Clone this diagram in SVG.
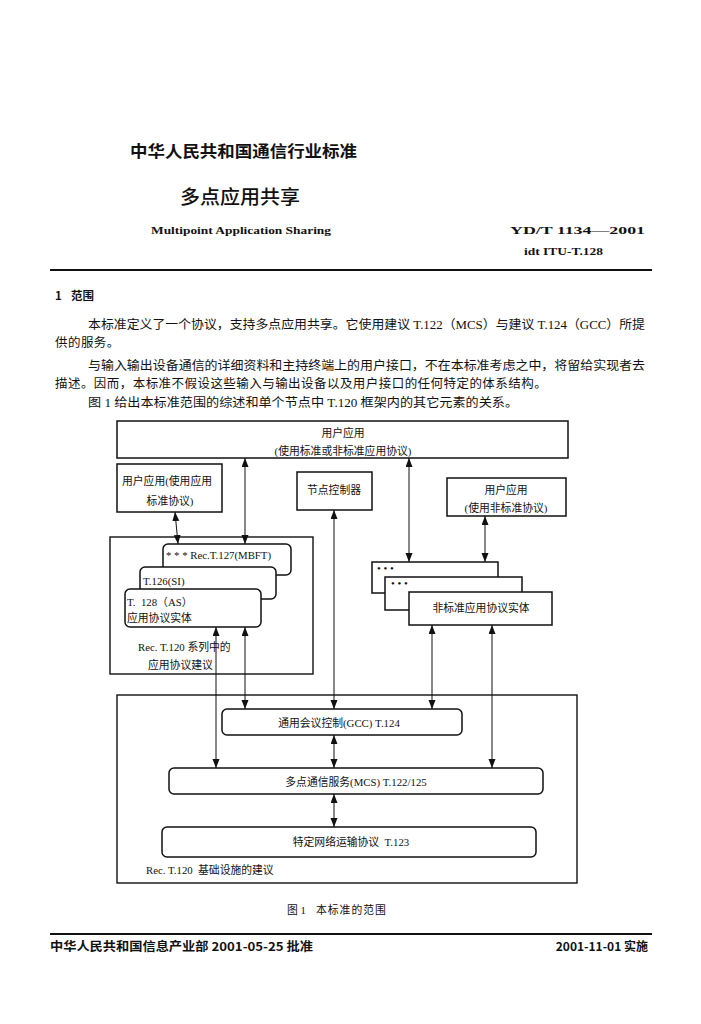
<svg xmlns="http://www.w3.org/2000/svg" width="701" height="1024" viewBox="0 0 701 1024">
<style>
.t{font-family:"Liberation Serif","Noto Sans CJK SC",serif;fill:#111}
.h{font-family:"Noto Sans CJK SC",sans-serif;font-weight:bold;fill:#111}
.b{font-family:"Liberation Serif","Noto Sans CJK SC",serif;font-size:12.5px;fill:#111}
.d{font-family:"Liberation Serif","Noto Sans CJK SC",serif;font-size:10.8px;fill:#111}
.box{fill:#fff;stroke:#111;stroke-width:1.5}
.frame{fill:none;stroke:#111;stroke-width:1.4}
.c{fill:none;stroke:#111;stroke-width:1;marker-start:url(#ah);marker-end:url(#ah)}
</style>
<defs>
<marker id="ah" markerUnits="userSpaceOnUse" markerWidth="10" markerHeight="8" refX="9" refY="3.5" orient="auto-start-reverse"><path d="M0,0 L9,3.5 L0,7 z" fill="#111"/></marker>
</defs>
<rect width="701" height="1024" fill="#fff"/>

<!-- header -->
<text class="h" x="130" y="157" font-size="16" textLength="227" lengthAdjust="spacingAndGlyphs">中华人民共和国通信行业标准</text>
<text x="180" y="204" style="font-family:'Noto Sans CJK SC',sans-serif;font-size:19px;font-weight:500;fill:#111" textLength="120" lengthAdjust="spacingAndGlyphs">多点应用共享</text>
<text class="t" x="151" y="234" font-size="11" font-weight="bold" textLength="180" lengthAdjust="spacingAndGlyphs">Multipoint Application Sharing</text>
<text class="t" x="510" y="234" font-size="11" font-weight="bold" textLength="135" lengthAdjust="spacingAndGlyphs">YD/T 1134—2001</text>
<text class="t" x="524" y="255" font-size="11" font-weight="bold" textLength="79" lengthAdjust="spacingAndGlyphs">idt ITU-T.128</text>
<line x1="50" y1="270" x2="652" y2="270" stroke="#111" stroke-width="2"/>

<!-- body -->
<text class="h" x="55" y="300" font-size="11.5">1</text>
<text class="h" x="71" y="300" font-size="11.5">范围</text>
<text class="b" x="88" y="329" textLength="557" lengthAdjust="spacingAndGlyphs">本标准定义了一个协议，支持多点应用共享。它使用建议 T.122（MCS）与建议 T.124（GCC）所提</text>
<text class="b" x="55" y="347" letter-spacing="0.45">供的服务。</text>
<text class="b" x="88" y="370" textLength="557" lengthAdjust="spacingAndGlyphs">与输入输出设备通信的详细资料和主持终端上的用户接口，不在本标准考虑之中，将留给实现者去</text>
<text class="b" x="55" y="388" letter-spacing="0.45">描述。因而，本标准不假设这些输入与输出设备以及用户接口的任何特定的体系结构。</text>
<text class="b" x="88" y="407" textLength="430" lengthAdjust="spacingAndGlyphs">图 1 给出本标准范围的综述和单个节点中 T.120 框架内的其它元素的关系。</text>

<!-- diagram frames -->
<g id="frame-app">
<rect class="frame" x="110" y="537" width="203" height="137"/>
<text class="d" x="138" y="651">Rec. T.120 系列中的</text>
<text class="d" x="148" y="669">应用协议建议</text>
</g>
<g id="frame-infra">
<rect class="frame" x="117" y="695" width="460" height="188"/>
<text class="d" x="146" y="874" xml:space="preserve">Rec. T.120  基础设施的建议</text>
</g>

<g id="user-app-top">
<rect class="box" x="117" y="421" width="451" height="37"/>
<text class="d" x="343" y="437" text-anchor="middle">用户应用</text>
<text class="d" x="343" y="455" text-anchor="middle">(使用标准或非标准应用协议)</text>
</g>
<g id="user-app-std">
<rect class="box" x="117" y="464" width="105" height="48"/>
<text class="d" x="122" y="485">用户应用(使用应用</text>
<text class="d" x="170" y="505" text-anchor="middle">标准协议)</text>
</g>
<g id="node-controller">
<rect class="box" x="297" y="472" width="75" height="38"/>
<text class="d" x="334" y="494" text-anchor="middle">节点控制器</text>
</g>
<g id="user-app-nonstd">
<rect class="box" x="447" y="478" width="119" height="38"/>
<text class="d" x="506" y="494" text-anchor="middle">用户应用</text>
<text class="d" x="506" y="512" text-anchor="middle">(使用非标准协议)</text>
</g>

<g id="t127">
<rect class="box" x="163" y="544" width="128" height="31" rx="5"/>
<text class="d" x="166" y="559">* * * Rec.T.127(MBFT)</text>
</g>
<g id="t126">
<rect class="box" x="140" y="567" width="136" height="32" rx="5"/>
<text class="d" x="143" y="585">T.126(SI)</text>
</g>
<g id="t128">
<rect class="box" x="125" y="589" width="136" height="38" rx="5"/>
<text class="d" x="127" y="606" xml:space="preserve">T.  128（AS）</text>
<text class="d" x="127" y="622">应用协议实体</text>
</g>

<g id="nonstd-1">
<rect class="box" x="372" y="562" width="126" height="31"/>
<text class="d" x="377" y="572" font-size="8">• • •</text>
</g>
<g id="nonstd-2">
<rect class="box" x="385" y="577" width="137" height="33"/>
<text class="d" x="391" y="587" font-size="8">• • •</text>
</g>
<g id="nonstd-entity">
<rect class="box" x="409" y="592" width="143" height="33"/>
<text class="d" x="481" y="612" text-anchor="middle">非标准应用协议实体</text>
</g>

<g id="gcc">
<rect class="box" x="222" y="709" width="240" height="26" rx="5"/>
<text class="d" x="339" y="727" text-anchor="middle">通用会议控制(GCC) T.124</text>
</g>
<g id="mcs">
<rect class="box" x="169" y="768" width="374" height="26" rx="5"/>
<text class="d" x="356" y="786" text-anchor="middle">多点通信服务(MCS) T.122/125</text>
</g>
<g id="t123">
<rect class="box" x="162" y="827" width="374" height="30" rx="5"/>
<text class="d" x="351" y="846" text-anchor="middle" xml:space="preserve">特定网络运输协议  T.123</text>
</g>

<g id="connectors">
<line class="c" x1="175" y1="512" x2="178" y2="544"/>
<line class="c" x1="245" y1="458" x2="245" y2="544"/>
<line class="c" x1="334" y1="510" x2="334" y2="709"/>
<line class="c" x1="409" y1="458" x2="409" y2="562"/>
<line class="c" x1="485" y1="516" x2="485" y2="562"/>
<line class="c" x1="245" y1="627" x2="245" y2="709"/>
<line class="c" x1="216" y1="627" x2="216" y2="768"/>
<line class="c" x1="432" y1="625" x2="432" y2="709"/>
<line class="c" x1="492" y1="625" x2="492" y2="768"/>
<line class="c" x1="334" y1="735" x2="334" y2="768"/>
<line class="c" x1="334" y1="794" x2="334" y2="827"/>
</g>

<text class="d" x="287" y="914" font-size="11">图 1</text>
<text class="d" x="316" y="914" font-size="11" letter-spacing="1">本标准的范围</text>
<line x1="50" y1="934" x2="652" y2="934" stroke="#111" stroke-width="2"/>
<text class="h" x="50" y="951" font-size="12" textLength="263" lengthAdjust="spacingAndGlyphs">中华人民共和国信息产业部 2001-05-25 批准</text>
<text class="h" x="648" y="951" font-size="12" text-anchor="end">2001-11-01 实施</text>
</svg>
